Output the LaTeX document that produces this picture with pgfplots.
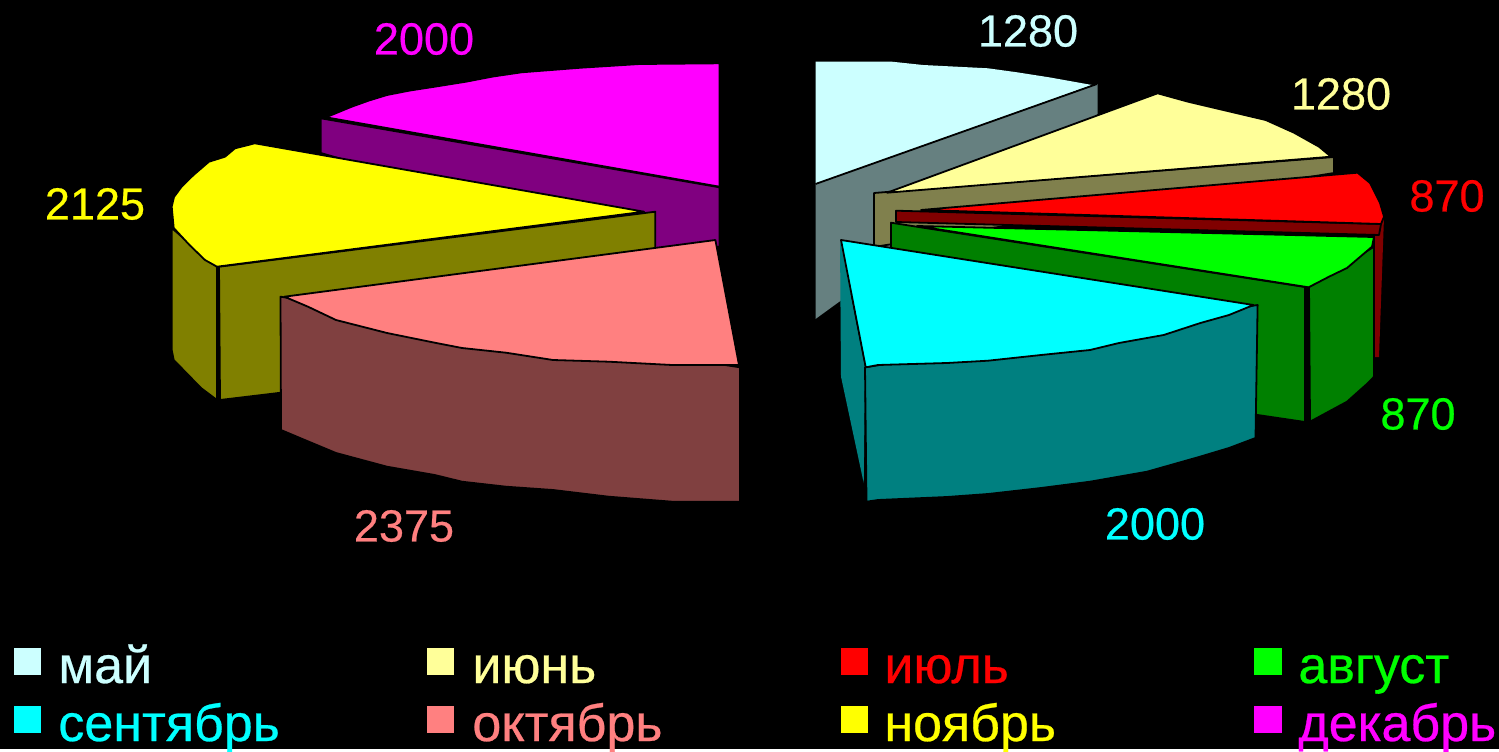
\documentclass[border=0pt]{standalone}
\usepackage{pgfplots}
\pgfplotsset{compat=1.18}
\usepackage{fontspec}
\setmainfont{Liberation Sans}[FakeBold=0.5]
\definecolor{cMay}{HTML}{CCFFFF}
\definecolor{cJun}{HTML}{FFFF99}
\definecolor{cJul}{HTML}{FF0000}
\definecolor{cAug}{HTML}{00FF00}
\definecolor{cSep}{HTML}{00FFFF}
\definecolor{cOct}{HTML}{FF8080}
\definecolor{cNov}{HTML}{FFFF00}
\definecolor{cDec}{HTML}{FF00FF}
\definecolor{sMay}{HTML}{668080}
\definecolor{sJun}{HTML}{80804D}
\definecolor{sJul}{HTML}{800000}
\definecolor{sAug}{HTML}{008000}
\definecolor{sSep}{HTML}{008080}
\definecolor{sOct}{HTML}{804040}
\definecolor{sNov}{HTML}{808000}
\definecolor{sDec}{HTML}{800080}
\newcommand{\face}[2]{\addplot[fill=#1,draw=black,line width=0.9pt,line join=round] coordinates {#2} --cycle;}
\newcommand{\plain}[2]{\addplot[fill=#1,draw=none] coordinates {#2} --cycle;}
\newcommand{\val}[4]{\node[text=#1,font=\fontsize{22.5}{24}\selectfont,inner sep=0pt] at (axis cs:#2,#3) {#4};}
\newcommand{\leg}[4]{\node[text=#1,font=\fontsize{26}{28}\selectfont,inner sep=0pt,anchor=base west] at (axis cs:#2,#3) {#4};}
\begin{document}
\begin{tikzpicture}
\begin{axis}[
  scale only axis, width=749.5pt, height=374.5pt,
  xmin=0, xmax=1499, ymin=0, ymax=749, y dir=reverse,
  hide axis, clip mode=individual]
% background
\plain{black}{(0,0)(1499,0)(1499,749)(0,749)}
% May
\plain{sMay}{(815.5,184)(1097.6,84)(1097.6,114)(815.5,319)}
\plain{cMay}{(815.5,61.7)(892,61.7)(923,65)(988,68.3)(1017,72.3)(1049,77.3)(1092,85)(815.5,184)}
\addplot[black,line width=0.9pt] coordinates {(815.5,184)(1097,84)};
% June
\face{sJun}{(874,193)(1334,157)(1334,173)(874,247)}
\face{cJun}{(887,192.7)(1157.6,93.3)(1188,101.7)(1265.7,120)(1294,132.7)(1319,146.7)(1331,156.7)}
% July
\plain{sJul}{(1381,224)(1384,217)(1379,357)(1375,357)(1375,235)}
\face{sJul}{(896,210.7)(1381,224)(1379,235)(896,222)}
\face{cJul}{(921,210)(1357.6,172.7)(1370,183)(1380,203)(1384,216.7)(1381,224)}
% August
\face{sAug}{(891,222.7)(1305,287)(1305,422)(1257.6,415)(891,361)}
\face{sAug}{(1309,287)(1374,246.7)(1374,376.7)(1368,383)(1347,401.7)(1310,421.7)}
\face{cAug}{(917,226)(1374,237)(1372,246.7)(1347,268)(1329,276.7)(1308.6,287.3)}
% September
\plain{sSep}{(840,240)(865,367.3)(863.7,483)(841,376.7)}
\face{sSep}{(865,367.3)(1257.6,305)(1255.5,438)(1229,448)(1200,456.7)(1147,471.7)(1090,481.7)(1041,488)(988,494)(947,497)(878,500)(866.5,501.7)}
\face{cSep}{(841,240)(1253.5,305)(1229,315)(1200.4,323)(1163.7,335)(1119,343)(1090,350)(1041,355)(988,360.7)(947,363)(878,365)(865.7,367.3)}
% December
\face{sDec}{(320.8,118.3)(719.4,187.3)(719.4,246.7)(655,250)(320.8,153)}
\face{cDec}{(326,117.3)(351.7,106.7)(369,100.5)(387,95)(410,90.5)(434.7,86.7)(466,81.7)(493,76.5)(521.7,72.3)(581,67.7)(640,64)(719.4,63.3)(719.4,186.7)}
% November
\face{sNov}{(171.7,228)(217,267)(217,400)(201,388)(173.7,360)(171.7,350)}
\face{sNov}{(219,266.7)(655.3,211.7)(655.3,345)(278.5,393)(220,400)}
\face{cNov}{(644,211.7)(254.8,143.3)(235,148.3)(225,156.7)(209,161.7)(193.5,175)(181.6,186.7)(174,197)(171.7,206.7)(173.7,228)(189.5,245)(205,260)(217,266.7)}
% October
\face{sOct}{(280.5,296.7)(740,367.3)(740,501.7)(672,501.7)(608.7,496.7)(553,490)(506,486.7)(462,481.7)(434.7,475)(387,466.7)(336,453)(300,438)(281,430)}
\face{cOct}{(284.4,296.7)(715.4,240)(739,365)(672,365)(608.7,361.7)(553,360)(506,352.7)(462,348)(434.7,342.7)(387,333)(336,320)(308,306.7)}
% values
\val{cMay}{1028}{31}{1280}
\val{cJun}{1341}{94}{1280}
\val{cJul}{1447}{196}{870}
\val{cAug}{1418}{414}{870}
\val{cSep}{1155}{524}{2000}
\val{cOct}{404}{526}{2375}
\val{cNov}{95}{204}{2125}
\val{cDec}{424}{39}{2000}
% legend
\plain{cMay}{(14,648)(41,648)(41,675)(14,675)}
\plain{cJun}{(427,648)(454,648)(454,675)(427,675)}
\plain{cJul}{(841,648)(868,648)(868,675)(841,675)}
\plain{cAug}{(1254,648)(1282,648)(1282,675)(1254,675)}
\plain{cSep}{(14,706)(41,706)(41,733)(14,733)}
\plain{cOct}{(427,706)(454,706)(454,733)(427,733)}
\plain{cNov}{(841,706)(868,706)(868,733)(841,733)}
\plain{cDec}{(1254,706)(1282,706)(1282,733)(1254,733)}
\leg{cMay}{58}{683}{май}
\leg{cJun}{472}{683}{июнь}
\leg{cJul}{884}{683}{июль}
\leg{cAug}{1298}{683}{август}
\leg{cSep}{58}{741}{сентябрь}
\leg{cOct}{472}{741}{октябрь}
\leg{cNov}{884}{741}{ноябрь}
\leg{cDec}{1298}{741}{декабрь}
\end{axis}
\end{tikzpicture}
\end{document}
